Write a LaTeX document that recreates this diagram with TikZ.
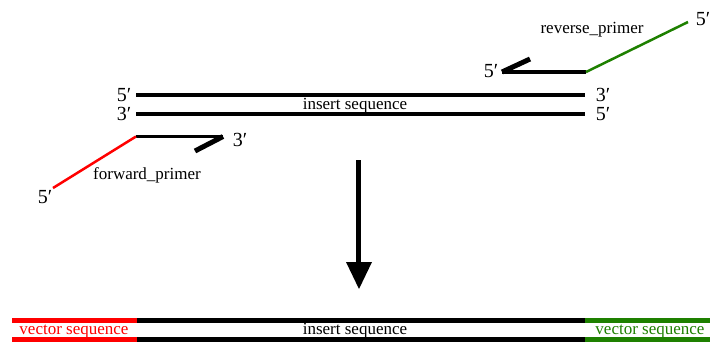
\documentclass[tikz,border=0pt]{standalone}
\usepackage{fontspec}
\setmainfont{Liberation Serif}
\definecolor{fwdred}{RGB}{255,0,0}
\definecolor{revgreen}{RGB}{30,128,0}
\begin{document}
\begin{tikzpicture}[x=1pt,y=-1pt,
  lbl/.style={font=\fontsize{17}{17}\selectfont, inner sep=0pt, anchor=base},
  endlbl/.style={font=\fontsize{20}{20}\selectfont, inner sep=0pt, anchor=base},
  strand/.style={line width=4.5pt},
  primerline/.style={line width=3.5pt},
  hookline/.style={line width=5pt},
  tail/.style={line width=2.5pt},
  bar/.style={line width=5pt}]
\useasboundingbox (0,0) rectangle (710,341);
% duplex
\coordinate (tL) at (136,95);
\coordinate (tR) at (585,95);
\coordinate (bL) at (136,114);
\coordinate (bR) at (585,114);
\draw[strand] (tL) -- (tR);
\draw[strand] (bL) -- (bR);
\node[endlbl] (tl5) at (124,101.5) {5′};
\node[endlbl] (bl3) at (124,120.5) {3′};
\node[endlbl] (tr3) at (603,101.5) {3′};
\node[endlbl] (br5) at (603,120.5) {5′};
\node[lbl] (ins) at (355,109.5) {insert sequence};
% forward primer
\coordinate (fS) at (136,136.5);
\coordinate (fE) at (223,136.5);
\coordinate (fH) at (195,151);
\coordinate (f5) at (53,188);
\draw[primerline] (fS) -- (fE);
\draw[hookline] (fE) -- (fH);
\draw[tail, fwdred] (fS) -- (f5);
\node[endlbl] (f3l) at (240,146.5) {3′};
\node[endlbl] (f5l) at (45,203.5) {5′};
\node[lbl] (fname) at (147,179) {forward\_primer};
% reverse primer
\coordinate (rS) at (586,72);
\coordinate (rE) at (502,72);
\coordinate (rH) at (530,59);
\coordinate (r5) at (688,22);
\draw[primerline] (rS) -- (rE);
\draw[hookline] (rE) -- (rH);
\draw[tail, revgreen] (rS) -- (r5);
\node[endlbl] (r5l) at (491,77.5) {5′};
\node[endlbl] (r5e) at (703,25.5) {5′};
\node[lbl] (rname) at (592,33) {reverse\_primer};
% arrow
\coordinate (aT) at (358,160);
\coordinate (aM) at (358,263);
\draw[line width=5pt] (aT) -- (aM);
\fill (346,262) -- (372,262) -- (359,289) -- cycle;
% result bar
\coordinate (v1) at (12,320);
\coordinate (v2) at (137,320);
\coordinate (v3) at (585,320);
\coordinate (v4) at (710,320);
\coordinate (w1) at (12,339.5);
\coordinate (w2) at (137,339.5);
\coordinate (w3) at (585,339.5);
\coordinate (w4) at (710,339.5);
\draw[bar, fwdred] (v1) -- (v2);
\draw[bar, fwdred] (w1) -- (w2);
\draw[bar] (v2) -- (v3);
\draw[bar] (w2) -- (w3);
\draw[bar, revgreen] (v3) -- (v4);
\draw[bar, revgreen] (w3) -- (w4);
\node[lbl, fwdred] (vs1) at (74,334) {vector sequence};
\node[lbl] (ins2) at (355,334) {insert sequence};
\node[lbl, revgreen] (vs2) at (650,334) {vector sequence};
\end{tikzpicture}
\end{document}
